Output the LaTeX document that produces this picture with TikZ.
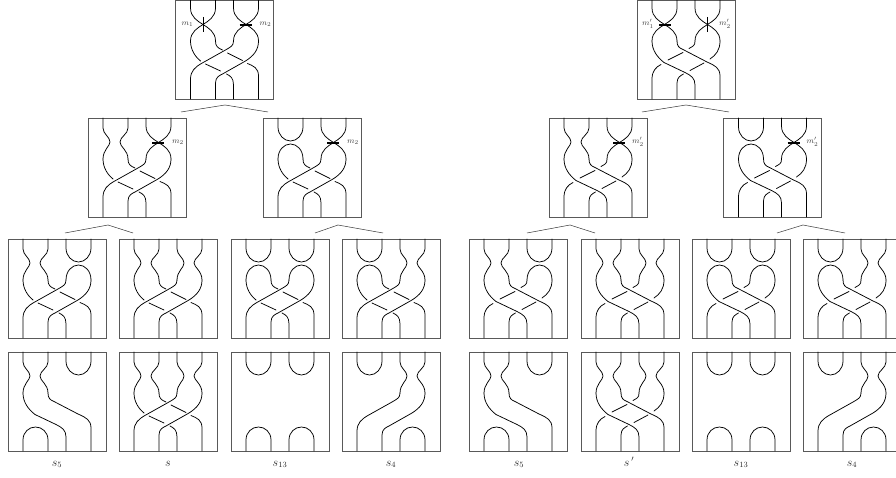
\documentclass[tikz,border=0pt]{standalone}
\usetikzlibrary{calc}

\tikzset{
  braidbox/.style={draw=black!65, line width=.6pt, minimum width=98pt, minimum height=99pt, inner sep=0pt, outer sep=0pt, anchor=north west},
  braidline/.style={line width=.75pt, line cap=round, line join=round},
  markbar/.style={line width=1.6pt},
  treeline/.style={line width=.5pt, black!80},
  marklabel/.style={font=\footnotesize, black!75, inner sep=0pt},
  sublabel/.style={font=\large, black!85, anchor=base, inner sep=0pt}
}

% top of a panel, left pair and right pair
\newcommand{\wigL}{%
  \draw[braidline] (15,0) -- (15,10) .. controls (15,16) and (22,19) .. (22,24) .. controls (22,28) and (15,32) .. (15,41);
  \draw[braidline] (40,0) -- (40,10) .. controls (40,16) and (32,19) .. (32,24) .. controls (32,29) and (40,32) .. (40,41);
}
\newcommand{\wigR}{%
  \draw[braidline] (58,0) -- (58,10) .. controls (58,16) and (65,19) .. (65,24) .. controls (65,29) and (58,32) .. (58,41);
  \draw[braidline] (83,0) -- (83,10) .. controls (83,16) and (75,19) .. (75,24) .. controls (75,28) and (83,32) .. (83,41);
}
\newcommand{\cupL}{%
  \draw[braidline] (15,0) -- (15,9) .. controls (15,17) and (21,23) .. (27.5,23) .. controls (34,23) and (40,17) .. (40,9) -- (40,0);
}
\newcommand{\cupR}{%
  \draw[braidline] (58,0) -- (58,9) .. controls (58,17) and (64,23) .. (70.5,23) .. controls (77,23) and (83,17) .. (83,9) -- (83,0);
}
\newcommand{\capUL}{%
  \draw[braidline] (15,41) .. controls (15,32) and (21,26) .. (27.5,26) .. controls (34,26) and (40,32) .. (40,41);
}
\newcommand{\capUR}{%
  \draw[braidline] (58,41) .. controls (58,32) and (64,26) .. (70.5,26) .. controls (77,26) and (83,32) .. (83,41);
}
\newcommand{\xingL}{%
  \draw[braidline] (15,0) -- (15,8) .. controls (15,17) and (22,21) .. (27.5,24.5) .. controls (33,28) and (40,32) .. (40,41);
  \draw[braidline] (40,0) -- (40,8) .. controls (40,17) and (33,21) .. (27.5,24.5) .. controls (22,28) and (15,32) .. (15,41);
}
\newcommand{\xingR}{%
  \draw[braidline] (58,0) -- (58,8) .. controls (58,17) and (65,21) .. (70.5,24.5) .. controls (76,28) and (83,32) .. (83,41);
  \draw[braidline] (83,0) -- (83,8) .. controls (83,17) and (76,21) .. (70.5,24.5) .. controls (65,28) and (58,32) .. (58,41);
}
% bottom caps
\newcommand{\capDL}{%
  \draw[braidline] (15,99) -- (15,88) .. controls (15,80) and (21,75) .. (27.5,75) .. controls (34,75) and (40,80) .. (40,88) -- (40,99);
}
\newcommand{\capDR}{%
  \draw[braidline] (58,99) -- (58,88) .. controls (58,80) and (64,75) .. (70.5,75) .. controls (77,75) and (83,80) .. (83,88) -- (83,99);
}
% long strands without a crossing
\newcommand{\slashA}{%
  \draw[braidline] (15,99) -- (15,79) .. controls (15,71) and (20,67) .. (25,64) -- (50,50) .. controls (55,47) and (58,46) .. (58,41);
}
\newcommand{\slashB}{%
  \draw[braidline] (40,99) -- (40,83) .. controls (40,77) and (44,75.5) .. (47,74) -- (70,61) .. controls (78,56) and (83,50) .. (83,41);
}
\newcommand{\backA}{%
  \draw[braidline] (15,41) .. controls (15,50) and (20,57) .. (27,62.5) -- (48,72.5) .. controls (54,75.5) and (58,78) .. (58,85) -- (58,99);
}
\newcommand{\backB}{%
  \draw[braidline] (40,41) .. controls (40,46) and (42,48) .. (46,49.5) -- (70,62) .. controls (78,65.5) and (83,68) .. (83,76) -- (83,99);
}
% the four crossings, slashes over
\newcommand{\posbraid}{%
  \slashA
  \slashB
  \draw[braidline] (15,41) .. controls (15,50) and (20,57) .. (25,61);
  \draw[braidline] (30,64) -- (45,71);
  \draw[braidline] (51,74) .. controls (55,76) and (58,78) .. (58,85) -- (58,99);
  \draw[braidline] (40,41) .. controls (40,46) and (42,48) .. (47,50);
  \draw[braidline] (52,53) -- (67,60.5);
  \draw[braidline] (72,63.5) .. controls (78,66) and (83,68) .. (83,76) -- (83,99);
}
% the same crossings, backslashes over
\newcommand{\negbraid}{%
  \backA
  \backB
  \draw[braidline] (15,99) -- (15,79) .. controls (15,71) and (19,67) .. (24,64.5);
  \draw[braidline] (31,60) -- (46,52.5);
  \draw[braidline] (52,48.5) .. controls (56,46) and (58,46) .. (58,41);
  \draw[braidline] (40,99) -- (40,83) .. controls (40,77) and (44,75.5) .. (46.5,74);
  \draw[braidline] (53,70.5) -- (67,63);
  \draw[braidline] (73,59) .. controls (79,55) and (83,50) .. (83,41);
}
\newcommand{\braidpanel}[3]{%
  \node[braidbox] (#1) at (#2) {};
  \begin{scope}[shift={(#1.north west)}]
    #3
  \end{scope}
}

\begin{document}
\begin{tikzpicture}[x=1pt, y=-1pt]
  \clip (0,0) rectangle (896,478);

  % left tree
  \braidpanel{top}{175.5,0}{\xingL \xingR \posbraid
    \draw[markbar] (28,17) -- (28,32);
    \draw[markbar] (64,25) -- (76,25);
    \node[marklabel] (mone) at (12,24) {$m_1$};
    \node[marklabel] (mtwo) at (90,24) {$m_2$};}
  \braidpanel{midl}{88,118}{\wigL \xingR \posbraid
    \draw[markbar] (64,25) -- (76,25);
    \node[marklabel] (mtwol) at (90,24) {$m_2$};}
  \braidpanel{midr}{263,118}{\cupL \capUL \xingR \posbraid
    \draw[markbar] (64,25) -- (76,25);
    \node[marklabel] (mtwor) at (90,24) {$m_2$};}

  \braidpanel{pa}{8,239}{\wigL \cupR \capUR \posbraid}
  \braidpanel{pb}{119,239}{\wigL \wigR \posbraid}
  \braidpanel{pc}{231,239}{\cupL \capUL \cupR \capUR \posbraid}
  \braidpanel{pd}{342,239}{\cupL \capUL \wigR \posbraid}

  \braidpanel{qa}{8,352}{\wigL \cupR \capDL \backA \backB}
  \braidpanel{qb}{119,352}{\wigL \wigR \posbraid}
  \braidpanel{qc}{231,352}{\cupL \cupR \capDL \capDR}
  \braidpanel{qd}{342,352}{\cupL \wigR \capDR \slashA \slashB}

  \node[sublabel] (sfive) at (57,466) {$s_5$};
  \node[sublabel] (sone) at (168,466) {$s$};
  \node[sublabel] (sthirteen) at (280,466) {$s_{13}$};
  \node[sublabel] (sfour) at (391,466) {$s_4$};

  % right tree
  \braidpanel{topp}{637,0}{\xingL \xingR \negbraid
    \draw[markbar] (22,25) -- (34,25);
    \draw[markbar] (70.5,17) -- (70.5,32);
    \node[marklabel] (mpone) at (11,24) {$m'_1$};
    \node[marklabel] (mptwo) at (88,24) {$m'_2$};}
  \braidpanel{midlp}{549,118}{\wigL \xingR \negbraid
    \draw[markbar] (64,25) -- (76,25);
    \node[marklabel] (mptwol) at (89,24) {$m'_2$};}
  \braidpanel{midrp}{723.5,118}{\cupL \capUL \xingR \negbraid
    \draw[markbar] (64,25) -- (76,25);
    \node[marklabel] (mptwor) at (89,24) {$m'_2$};}

  \braidpanel{ra}{469,239}{\wigL \cupR \capUR \negbraid}
  \braidpanel{rb}{581,239}{\wigL \wigR \negbraid}
  \braidpanel{rc}{692,239}{\cupL \capUL \cupR \capUR \negbraid}
  \braidpanel{rd}{803,239}{\cupL \capUL \wigR \negbraid}

  \braidpanel{ta}{469,352}{\wigL \cupR \capDL \backA \backB}
  \braidpanel{tb}{581,352}{\wigL \wigR \negbraid}
  \braidpanel{tc}{692,352}{\cupL \cupR \capDL \capDR}
  \braidpanel{td}{803,352}{\cupL \wigR \capDR \slashA \slashB}

  \node[sublabel] (spfive) at (519,466) {$s_5$};
  \node[sublabel] (spone) at (629,466) {$s\,'$};
  \node[sublabel] (spthirteen) at (741,466) {$s_{13}$};
  \node[sublabel] (spfour) at (852,466) {$s_4$};

  % little roofs between the levels
  \coordinate (roofa) at (225,105);
  \coordinate (roofal) at (181,112);
  \coordinate (roofar) at (268,112);
  \coordinate (roofb) at (108,225);
  \coordinate (roofbl) at (65,233);
  \coordinate (roofbr) at (133,233);
  \coordinate (roofc) at (338,225);
  \coordinate (roofcl) at (315,233);
  \coordinate (roofcr) at (383,233);
  \coordinate (roofd) at (686,105);
  \coordinate (roofdl) at (642,112);
  \coordinate (roofdr) at (729,112);
  \coordinate (roofe) at (570,225);
  \coordinate (roofel) at (527,233);
  \coordinate (roofer) at (595,233);
  \coordinate (rooff) at (803,225);
  \coordinate (rooffl) at (777,233);
  \coordinate (rooffr) at (845,233);
  \draw[treeline] (roofal) -- (roofa) -- (roofar);
  \draw[treeline] (roofbl) -- (roofb) -- (roofbr);
  \draw[treeline] (roofcl) -- (roofc) -- (roofcr);
  \draw[treeline] (roofdl) -- (roofd) -- (roofdr);
  \draw[treeline] (roofel) -- (roofe) -- (roofer);
  \draw[treeline] (rooffl) -- (rooff) -- (rooffr);
\end{tikzpicture}
\end{document}
